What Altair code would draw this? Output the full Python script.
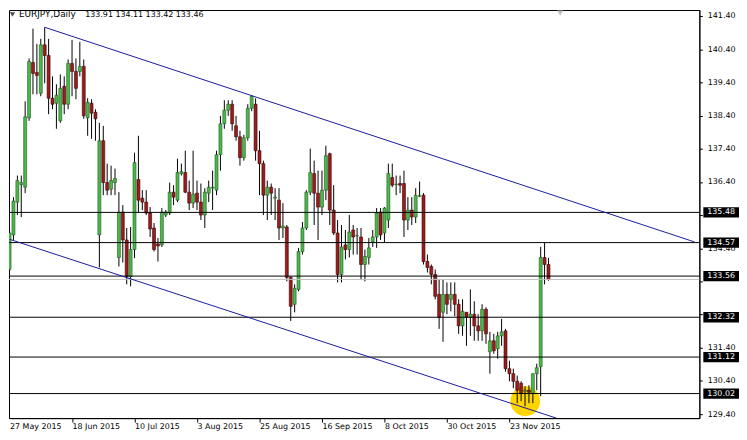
import altair as alt
import pandas as pd

# ---------------- data ----------------
axis_dates = ["27 May 2015", "18 Jun 2015", "10 Jul 2015", "3 Aug 2015", "25 Aug 2015",
              "16 Sep 2015", "8 Oct 2015", "30 Oct 2015", "23 Nov 2015"]

opens = [133.76, 134.80, 135.79, 136.32, 136.24, 138.33, 140.00, 139.70, 139.07, 140.53,
         140.21, 138.92, 138.77, 138.24, 139.28, 138.74, 139.97, 139.73, 139.73, 139.88,
         138.33, 138.77, 138.50, 134.80, 137.64, 136.38, 136.18, 136.38, 134.12, 135.49,
         134.65, 133.55, 134.36, 136.47, 135.91, 135.79, 135.46, 135.01, 134.53, 134.50,
         135.40, 135.46, 136.09, 135.85, 136.65, 136.68, 136.09, 135.76, 136.06, 135.79,
         135.40, 136.06, 136.21, 136.15, 137.22, 138.15, 138.56, 138.74, 138.09, 137.76,
         137.13, 137.73, 138.62, 138.74, 137.34, 136.95, 136.00, 136.24, 135.91, 135.85,
         135.01, 135.04, 133.52, 132.71, 133.16, 134.30, 135.01, 136.09, 136.65, 136.06,
         135.64, 136.15, 137.25, 135.55, 134.86, 133.61, 134.50, 134.36, 134.95, 134.77,
         134.74, 133.91, 134.12, 134.59, 134.74, 135.49, 134.86, 135.25, 136.53, 136.32,
         136.35, 136.35, 135.25, 135.55, 135.34, 135.97, 136.00, 134.00, 133.85, 133.61,
         133.01, 132.47, 133.01, 132.86, 133.01, 132.71, 132.06, 132.47, 132.32, 132.41,
         132.06, 131.91, 132.56, 131.28, 131.61, 131.37, 131.76, 131.91, 130.77, 130.62,
         130.39, 130.33, 130.09, 130.12, 130.03, 130.62, 130.83, 134.12, 133.91]

highs = [135.01, 135.94, 136.59, 136.59, 138.83, 140.12, 141.02, 140.56, 140.71, 141.06,
         140.71, 139.58, 139.34, 139.64, 139.58, 140.09, 140.68, 140.12, 140.62, 140.09,
         138.92, 138.89, 138.59, 138.18, 138.09, 136.95, 136.89, 136.80, 136.09, 135.70,
         135.01, 135.04, 137.28, 137.79, 136.15, 136.15, 135.64, 135.16, 134.71, 135.61,
         135.55, 136.38, 136.30, 137.10, 136.95, 137.34, 136.44, 137.34, 136.44, 136.35,
         136.21, 136.44, 136.74, 137.34, 138.39, 138.86, 138.86, 138.86, 138.39, 137.94,
         137.82, 138.74, 139.01, 138.92, 137.94, 137.04, 136.44, 136.35, 136.21, 136.21,
         135.76, 135.10, 133.55, 133.31, 134.41, 135.19, 136.15, 137.40, 137.04, 136.74,
         136.74, 137.49, 137.28, 136.30, 135.25, 135.10, 134.95, 135.40, 135.10, 135.01,
         135.01, 134.36, 134.71, 134.95, 135.61, 135.61, 135.64, 136.95, 136.95, 136.59,
         136.59, 136.74, 135.94, 135.94, 136.21, 136.41, 136.06, 134.21, 133.91, 133.76,
         133.46, 133.46, 133.37, 133.37, 133.37, 132.86, 132.86, 132.47, 133.16, 132.80,
         132.41, 132.71, 132.62, 131.88, 131.82, 131.88, 132.27, 131.97, 131.01, 130.77,
         130.56, 130.39, 130.24, 130.27, 130.62, 130.92, 134.44, 134.56, 134.11]

lows = [133.70, 134.65, 135.40, 135.34, 136.06, 138.24, 139.04, 139.04, 138.98, 139.37,
        138.44, 138.59, 138.00, 138.18, 138.44, 138.59, 138.98, 138.89, 139.58, 138.30,
        137.79, 137.70, 137.64, 133.82, 136.00, 136.00, 136.00, 136.00, 133.85, 133.97,
        133.31, 133.25, 134.10, 135.49, 135.55, 135.40, 134.74, 134.30, 134.00, 134.44,
        135.34, 135.40, 135.70, 135.79, 136.59, 136.06, 135.55, 135.61, 135.55, 135.25,
        135.01, 135.79, 135.55, 136.00, 136.74, 138.00, 138.39, 137.94, 137.64, 136.89,
        137.04, 137.64, 138.53, 137.04, 136.00, 135.40, 135.25, 135.40, 135.25, 134.65,
        134.71, 133.40, 132.21, 132.47, 133.10, 134.21, 134.95, 136.00, 135.10, 134.65,
        135.40, 135.85, 135.10, 134.80, 133.37, 133.37, 134.06, 134.12, 134.21, 134.21,
        133.46, 133.40, 133.91, 134.44, 134.41, 134.65, 134.56, 135.01, 136.24, 136.00,
        136.06, 134.74, 134.95, 135.10, 135.16, 135.94, 133.91, 133.67, 133.31, 132.86,
        131.97, 131.58, 132.41, 132.50, 132.35, 131.82, 131.76, 131.46, 131.76, 131.61,
        131.61, 131.61, 131.52, 130.62, 131.22, 131.07, 131.46, 130.68, 130.39, 130.18,
        129.73, 129.79, 129.64, 129.73, 129.73, 130.12, 129.94, 133.31, 133.42]

closes = [134.86, 135.82, 136.44, 136.38, 138.36, 140.03, 139.67, 139.61, 140.53, 140.21,
          138.92, 138.74, 139.01, 139.22, 138.74, 139.97, 139.73, 139.22, 139.88, 138.39,
          138.80, 138.47, 138.30, 137.64, 136.38, 136.15, 136.44, 136.50, 135.49, 134.65,
          133.55, 134.36, 136.98, 135.85, 135.79, 135.46, 134.98, 134.36, 134.47, 135.49,
          135.49, 136.09, 135.94, 136.68, 136.71, 136.09, 135.76, 136.03, 135.79, 135.40,
          136.09, 136.24, 136.24, 137.22, 138.15, 138.56, 138.74, 138.15, 137.76, 137.13,
          137.73, 138.62, 138.98, 137.34, 136.95, 136.00, 136.24, 136.06, 135.94, 135.01,
          135.07, 133.52, 132.65, 133.19, 134.30, 135.01, 136.09, 136.68, 136.06, 135.64,
          136.15, 137.19, 135.55, 134.86, 133.61, 134.44, 134.36, 134.89, 134.74, 134.78,
          133.91, 134.15, 134.41, 134.74, 135.46, 134.80, 135.61, 136.65, 136.30, 136.33,
          136.30, 135.25, 135.55, 135.34, 136.00, 135.98, 134.00, 133.82, 133.61, 132.95,
          132.32, 133.01, 132.71, 133.01, 132.71, 132.06, 132.50, 132.32, 132.41, 132.06,
          131.91, 132.56, 131.82, 131.61, 131.31, 131.76, 131.88, 130.77, 130.62, 130.39,
          130.12, 130.03, 130.12, 130.06, 130.62, 130.80, 134.12, 133.91, 133.46]

levels = [135.48, 134.57, 133.56, 132.32, 131.12, 130.02]
bid_price = 133.46
header_symbol = "EURJPY,Daily"
header_ohlc = "133.91 134.11 133.42 133.46"

# trend lines: (bar index, price) end points
trend_id = ["upper", "upper", "lower", "lower"]
trend_bar = [9, 175.4, 0, 140]
trend_price = [141.06, 134.59, 134.67, 129.28]

# highlight ellipse (bar index, price)
mark_bar_idx = [132.05]
mark_price = [129.79]

y_ticks = [129.40, 130.40, 131.40, 132.40, 133.40, 134.40, 135.40, 136.40,
           137.40, 138.40, 139.40, 140.40, 141.40]
# tick labels that sit completely under a price box in the reference
hidden_tick_labels = [135.40, 133.40, 132.40]
x_tick_bars = [16, 32, 48, 64, 80, 96, 112, 128]

# ---------------- build ----------------
n = len(opens)
df = pd.DataFrame({"i": list(range(n)), "o": opens, "h": highs, "l": lows, "c": closes})
df["dir"] = ["up" if c >= o else "down" for o, c in zip(opens, closes)]

W, H = 697, 412
xs = alt.Scale(domain=[1.125, 175.375], nice=False, zero=False)
ys = alt.Scale(domain=[129.28, 141.58], nice=False, zero=False)
FONT = "DejaVu Sans"

label_arr = "[" + ",".join("'%s'" % d for d in axis_dates[1:]) + "]"
x_axis = alt.Axis(values=x_tick_bars, labelExpr=label_arr + "[datum.value/16-1]",
                  orient="bottom", tickSize=4, labelAlign="left", labelBaseline="top",
                  labelPadding=1, labelFlush=False, title=None, grid=False,
                  domainColor="black", tickColor="black", labelColor="black",
                  labelFont=FONT, labelFontSize=8, labelOverlap=False)
hide_cond = " || ".join("abs(datum.value-%s)<0.01" % v for v in hidden_tick_labels)
y_axis = alt.Axis(values=y_ticks, format=".2f", orient="right", tickSize=3,
                  labelExpr="(" + hide_cond + ") ? '' : datum.label",
                  labelPadding=5, title=None, grid=False, domainColor="black",
                  tickColor="black", labelColor="black", labelFont=FONT,
                  labelFontSize=8, labelOverlap=False, labelFlush=False)


def X(field):
    return alt.X(field, type="quantitative", scale=xs, axis=x_axis)


def Y(field):
    return alt.Y(field, type="quantitative", scale=ys, axis=y_axis)


base = alt.Chart(df)

circle = alt.Chart(pd.DataFrame({"i": mark_bar_idx, "p": mark_price})).mark_point(
    filled=True, shape="circle", size=900, color="#FFD500", opacity=1, clip=True
).encode(x=X("i"), y=Y("p"))

wicks = base.mark_rule(color="black", strokeWidth=1, clip=True).encode(
    x=X("i"), y=Y("l"), y2="h:Q")

bodies = base.mark_bar(width=3, strokeWidth=0.6, clip=True).encode(
    x=X("i"), y=Y("o"), y2="c:Q",
    fill=alt.Fill("dir:N", scale=alt.Scale(domain=["up", "down"], range=["#4cb84c", "#9b1c1c"]), legend=None),
    stroke=alt.Stroke("dir:N", scale=alt.Scale(domain=["up", "down"], range=["#1e5a1e", "#3a0505"]), legend=None),
)

lev_df = pd.DataFrame({"p": levels, "txt": ["%.2f" % v for v in levels]})
lev_rules = alt.Chart(lev_df).mark_rule(color="black", strokeWidth=1).encode(y=Y("p"))

bid_rule = alt.Chart(pd.DataFrame({"p": [bid_price]})).mark_rule(
    color="#c0c0c0", strokeWidth=1).encode(y=Y("p"))

trend = alt.Chart(pd.DataFrame({"id": trend_id, "i": trend_bar, "p": trend_price})).mark_line(
    color="#1a1aa0", strokeWidth=1, clip=True).encode(x=X("i"), y=Y("p"), detail="id:N")

boxes = alt.Chart(lev_df).transform_calculate(
    hi="datum.p + 0.155", lo="datum.p - 0.155").mark_rect(color="black").encode(
    x=alt.value(701), x2=alt.value(737), y=Y("hi"), y2="lo:Q")

box_text = alt.Chart(lev_df).mark_text(
    color="white", font=FONT, fontSize=8, align="left", baseline="middle").encode(
    x=alt.value(705), y=Y("p"), text="txt:N")

title1 = alt.Chart(pd.DataFrame({"t": [header_symbol]})).mark_text(
    font=FONT, fontSize=9, align="left", baseline="top", color="black").encode(
    x=alt.value(10), y=alt.value(0.5), text="t:N")
title2 = alt.Chart(pd.DataFrame({"t": [header_ohlc]})).mark_text(
    font=FONT, fontSize=8, align="left", baseline="top", color="black").encode(
    x=alt.value(77), y=alt.value(1), text="t:N")
tri = alt.Chart(pd.DataFrame({"k": ["a"]})).mark_point(
    shape="triangle-down", filled=True, size=28, color="black").encode(
    x=alt.value(3.5), y=alt.value(4.5))
shift_tri = alt.Chart(pd.DataFrame({"k": ["b"]})).mark_point(
    shape="triangle-down", filled=True, size=40, color="#a8a8a8").encode(
    x=alt.value(556.5), y=alt.value(3))
first_date = alt.Chart(pd.DataFrame({"t": [axis_dates[0]]})).mark_text(
    font=FONT, fontSize=8, align="left", baseline="top", color="black").encode(
    x=alt.value(1), y=alt.value(H + 5), text="t:N")

chart = alt.layer(
    circle, wicks, bodies, lev_rules, bid_rule, trend, boxes, box_text,
    title1, title2, tri, shift_tri, first_date
).properties(width=W, height=H, padding=0, background="white").configure_view(
    stroke="black", strokeWidth=1)

chart.save("out.html", embed_options={"renderer": "svg", "actions": False})
